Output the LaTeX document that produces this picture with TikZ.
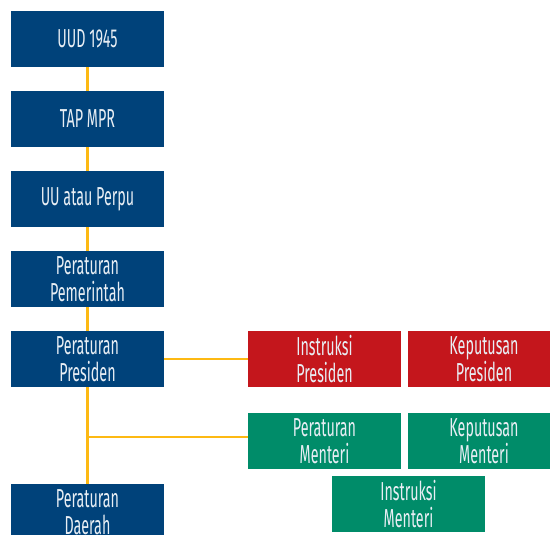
\documentclass[tikz,border=0pt]{standalone}
\usepackage{fontspec}
\setmainfont{Fira Sans}[FakeStretch=0.55]
\definecolor{hblue}{HTML}{00427A}
\definecolor{hred}{HTML}{C4161C}
\definecolor{hgreen}{HTML}{008C69}
\definecolor{hyellow}{HTML}{FDB913}
\definecolor{htext}{HTML}{E8EEF4}
\begin{document}
\begin{tikzpicture}[x=1pt,y=-1pt,
  box/.style={minimum width=153pt,minimum height=56pt,inner sep=0pt,align=center,
    text=htext,font=\fontsize{26}{27}\selectfont},
  bbox/.style={box,fill=hblue},
  rbox/.style={box,fill=hred},
  gbox/.style={box,fill=hgreen},
  link/.style={draw=hyellow,line width=2.5pt}]
\useasboundingbox (0,0) rectangle (550,535);
\clip (0,0) rectangle (550,535);
\node[bbox] (uud) at (87.5,39) {UUD 1945};
\node[bbox] (tap) at (87.5,119) {TAP MPR};
\node[bbox] (uu) at (87.5,199) {UU atau Perpu};
\node[bbox] (pp) at (87.5,279) {Peraturan\\Pemerintah};
\node[bbox] (pres) at (87.5,359) {Peraturan\\Presiden};
\node[bbox] (daerah) at (87.5,512) {Peraturan\\Daerah};
\node[rbox] (inpres) at (324.5,359) {Instruksi\\Presiden};
\node[rbox] (keppres) at (484,359) {Keputusan\\Presiden};
\node[gbox] (permen) at (324.5,441) {Peraturan\\Menteri};
\node[gbox] (kepmen) at (484,441) {Keputusan\\Menteri};
\node[gbox] (inmen) at (408.5,504) {Instruksi\\Menteri};
\coordinate (j) at (87.5,437);
\path[link] (uud) -- (tap);
\path[link] (tap) -- (uu);
\path[link] (uu) -- (pp);
\path[link] (pp) -- (pres);
\path[link] (pres) -- (daerah);
\path[link] (pres) -- (inpres);
\path[link] (j) -- (j -| permen.west);
\end{tikzpicture}
\end{document}
